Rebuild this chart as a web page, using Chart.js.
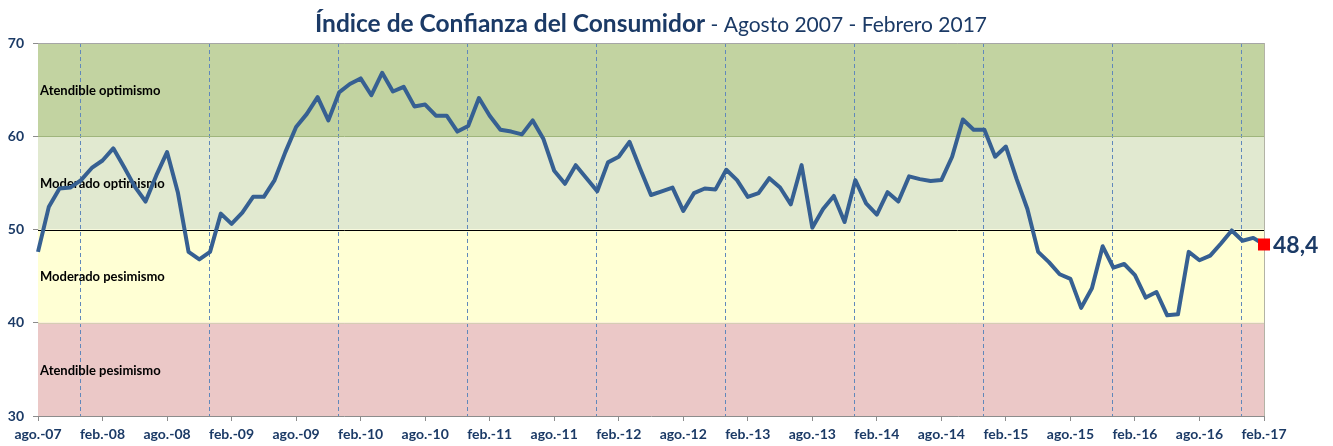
<!DOCTYPE html>
<html>
<head>
<meta charset="utf-8">
<script src="https://cdn.jsdelivr.net/npm/chart.js@4"></script>
<style>
  html, body { margin: 0; padding: 0; background: #fff; }
  #wrap { width: 1333px; height: 446px; }
</style>
</head>
<body>
<div id="wrap"><canvas id="myChart" width="1333" height="446"></canvas></div>
<script>
// months ago-07 .. feb-17
const monthNames = ['ene.', 'feb.', 'mar.', 'abr.', 'may.', 'jun.', 'jul.', 'ago.', 'sep.', 'oct.', 'nov.', 'dic.'];
const months = [];
for (let y = 2007; y <= 2017; y++) {
    for (let m = 0; m < 12; m++) {
        if (y === 2007 && m < 7) continue;
        if (y === 2017 && m > 1) break;
        months.push(monthNames[m] + '-' + String(y).slice(2));
    }
}

// indice de confianza del consumidor
const icc = [
    47.6, 52.4, 54.4, 54.5, 55.3, 56.6, 57.4, 58.7, 56.7, 54.6,
    53.0, 55.8, 58.3, 54.0, 47.6, 46.8, 47.6, 51.7, 50.6, 51.8,
    53.5, 53.5, 55.3, 58.3, 61.0, 62.4, 64.2, 61.7, 64.7, 65.6,
    66.2, 64.4, 66.8, 64.8, 65.3, 63.2, 63.4, 62.2, 62.2, 60.5,
    61.1, 64.1, 62.2, 60.7, 60.5, 60.2, 61.7, 59.7, 56.3, 54.9,
    56.9, 55.5, 54.1, 57.2, 57.8, 59.4, 56.5, 53.7, 54.1, 54.5,
    52.0, 53.9, 54.4, 54.3, 56.4, 55.3, 53.5, 53.9, 55.5, 54.5,
    52.7, 56.9, 50.2, 52.2, 53.6, 50.8, 55.3, 52.8, 51.6, 54.0,
    53.0, 55.7, 55.4, 55.2, 55.3, 57.8, 61.8, 60.7, 60.7, 57.8,
    58.9, 55.4, 52.2, 47.6, 46.5, 45.2, 44.7, 41.6, 43.7, 48.2,
    45.9, 46.3, 45.1, 42.7, 43.3, 40.8, 40.9, 47.6, 46.7, 47.2,
    48.5, 49.9, 48.8, 49.1, 48.4
];

const zoneEdges = [70, 60, 50, 40, 30];
const zoneNames = ['Atendible optimismo', 'Moderado optimismo', 'Moderado pesimismo', 'Atendible pesimismo'];
const zoneColors = ['#c2d3a1', '#e1e9d0', '#ffffd4', '#ebc8c7'];
const zoneLines = ['#a6a6a6', '#9fb57c', '#000000', '#d6cdb4'];

const navy = '#1b3a66';
const lastIdx = icc.length - 1;

const zonesPlugin = {
    id: 'zones',
    beforeDatasetsDraw(chart) {
        const ctx = chart.ctx;
        const a = chart.chartArea;
        const ys = chart.scales.y;
        const xs = chart.scales.x;
        ctx.save();
        // bands
        for (let i = 0; i < zoneNames.length; i++) {
            const top = ys.getPixelForValue(zoneEdges[i]);
            const bot = ys.getPixelForValue(zoneEdges[i + 1]);
            ctx.fillStyle = zoneColors[i];
            ctx.fillRect(a.left, top, a.right - a.left, bot - top);
        }
        // year-end dashed lines (december)
        ctx.strokeStyle = '#6088bb';
        ctx.lineWidth = 1;
        ctx.setLineDash([4, 3]);
        months.forEach((m, i) => {
            if (m.startsWith('dic.')) {
                const x = Math.floor(xs.getPixelForValue(i)) - 0.5;
                ctx.beginPath();
                ctx.moveTo(x, a.top);
                ctx.lineTo(x, a.bottom);
                ctx.stroke();
            }
        });
        ctx.setLineDash([]);
        // band edges
        for (let i = 0; i < zoneLines.length; i++) {
            const y = Math.round(ys.getPixelForValue(zoneEdges[i])) + 0.5;
            ctx.strokeStyle = zoneLines[i];
            ctx.lineWidth = 1;
            ctx.beginPath();
            ctx.moveTo(a.left, y);
            ctx.lineTo(a.right, y);
            ctx.stroke();
        }
        // right frame
        ctx.strokeStyle = '#b3b3a6';
        ctx.beginPath();
        ctx.moveTo(a.right + 0.5, a.top);
        ctx.lineTo(a.right + 0.5, a.bottom);
        ctx.stroke();
        // zone names
        ctx.fillStyle = '#000';
        ctx.font = 'bold 13px Lato';
        ctx.textBaseline = 'middle';
        for (let i = 0; i < zoneNames.length; i++) {
            const mid = ys.getPixelForValue((zoneEdges[i] + zoneEdges[i + 1]) / 2);
            ctx.fillText(zoneNames[i], a.left + 2, mid + 1);
        }
        ctx.restore();
    },
    afterDatasetsDraw(chart) {
        const ctx = chart.ctx;
        const pt = chart.getDatasetMeta(0).data[lastIdx];
        ctx.save();
        ctx.fillStyle = navy;
        ctx.font = 'bold 23px Lato';
        ctx.textBaseline = 'middle';
        ctx.fillText(String(icc[lastIdx]).replace('.', ','), pt.x + 9, pt.y + 1);
        ctx.restore();
    },
    afterDraw(chart) {
        const ctx = chart.ctx;
        const t1 = 'Índice de Confianza del Consumidor';
        const t2 = ' - Agosto 2007 - Febrero 2017';
        ctx.save();
        ctx.textBaseline = 'alphabetic';
        ctx.font = 'bold 24.5px Lato';
        const w1 = ctx.measureText(t1).width;
        ctx.font = '21px Lato';
        const w2 = ctx.measureText(t2).width;
        const x0 = 651 - (w1 + w2) / 2;
        ctx.fillStyle = navy;
        ctx.font = 'bold 24.5px Lato';
        ctx.fillText(t1, x0, 32);
        ctx.font = '21px Lato';
        ctx.fillText(t2, x0 + w1, 32);
        ctx.restore();
    }
};

const ctx = document.getElementById('myChart').getContext('2d');
const myChart = new Chart(ctx, {
    type: 'line',
    data: {
        labels: months,
        datasets: [{
            label: 'ICC',
            data: icc,
            borderColor: '#366092',
            borderWidth: 4,
            tension: 0,
            borderJoinStyle: 'round',
            pointStyle: 'rect',
            pointRadius: c => c.dataIndex === lastIdx ? 8.5 : 0,
            pointBackgroundColor: '#ff0000',
            pointBorderColor: '#ff0000',
            pointBorderWidth: 0
        }]
    },
    options: {
        responsive: false,
        animation: false,
        layout: { padding: { top: 43, right: 69, left: 0, bottom: 0 } },
        plugins: {
            legend: { display: false },
            tooltip: { enabled: false }
        },
        scales: {
            x: {
                offset: false,
                afterFit: s => { s.height = 30; },
                grid: {
                    drawOnChartArea: false,
                    tickLength: 5,
                    tickColor: c => c.index % 6 === 0 ? '#8c8c8c' : 'transparent'
                },
                border: { color: '#8c8c8c' },
                ticks: {
                    autoSkip: false,
                    maxRotation: 0,
                    padding: 5,
                    color: navy,
                    font: { family: 'Lato', weight: 'bold', size: 14 },
                    callback: (v, i) => i % 6 === 0 ? months[i] : ''
                }
            },
            y: {
                min: 30,
                max: 70,
                afterFit: s => { s.width = 38; },
                grid: {
                    drawOnChartArea: false,
                    tickLength: 5,
                    tickColor: '#8c8c8c'
                },
                border: { color: '#8c8c8c' },
                ticks: {
                    stepSize: 10,
                    padding: 9,
                    color: navy,
                    font: { family: 'Lato', weight: 'bold', size: 14 }
                }
            }
        }
    },
    plugins: [zonesPlugin]
});
</script>
</body>
</html>
